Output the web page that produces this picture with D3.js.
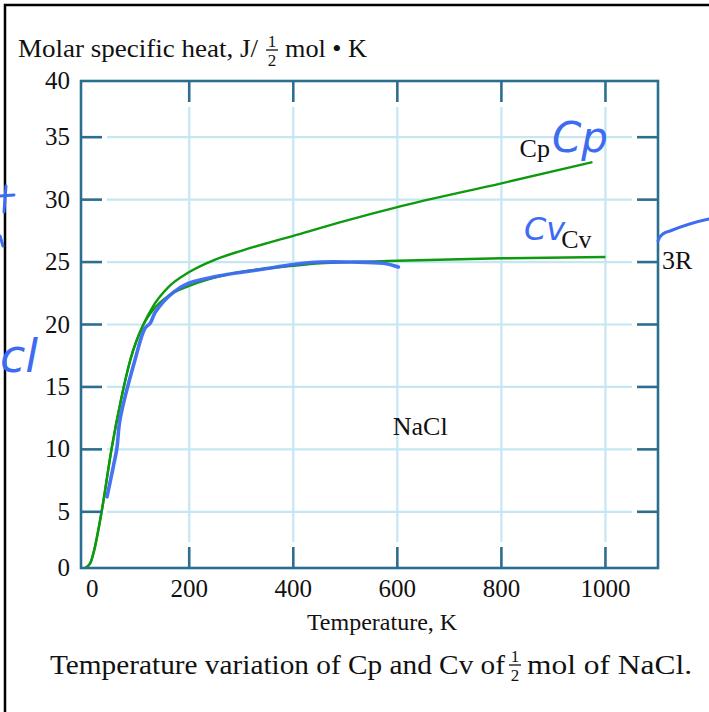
<!DOCTYPE html>
<html>
<head>
<meta charset="utf-8">
<script src="https://cdn.jsdelivr.net/npm/d3@7"></script>
<style>
  body { margin: 0; background: #fff; }
  text { font-family: "Liberation Serif", "Times New Roman", serif; fill: #111; }
  .hand { font-family: "DejaVu Sans", sans-serif; font-style: italic; fill: #3d6cf2; }
</style>
</head>
<body>
<div id="chart"></div>
<script>
// values (T in K, heat in J / half mol K)
var cpTemps = [0, 10, 16, 32, 51, 69, 87, 112, 131, 160, 200, 250, 300, 400, 500, 600, 800, 975];
var cpValues = [0, 0.9, 1.7, 5.1, 10.1, 14.0, 17.2, 20.0, 21.5, 23.0, 24.2, 25.2, 25.9, 27.1, 28.3, 29.4, 31.3, 33.0];

var cvTemps = [0, 10, 16, 32, 51, 69, 87, 112, 131, 160, 200, 272, 400, 452, 600, 800, 1000];
var cvValues = [0, 0.9, 1.7, 5.1, 10.1, 14.0, 17.2, 20.0, 21.2, 22.3, 23.1, 24.0, 24.7, 24.9, 25.1, 25.3, 25.4];

// blue hand drawn trace on top of Cv
var traceTemps = [42, 54, 61, 67, 96, 115, 125, 135, 170, 199, 272, 337, 400, 452, 510, 573, 602];
var traceValues = [6.2, 8.6, 10.1, 12.4, 17.2, 19.7, 20.1, 21.0, 22.6, 23.3, 24.0, 24.4, 24.8, 25.0, 25.0, 24.9, 24.6];

var xTicks = [0, 200, 400, 600, 800, 1000];
var yTicks = [0, 5, 10, 15, 20, 25, 30, 35, 40];

var width = 709,
    height = 712,
    frameLeft = 81,
    frameRight = 658,
    frameTop = 81,
    frameBottom = 568,
    tickLen = 21,
    gap = 5;

var teal = "#2b6f8e",
    gridBlue = "#c4e7f2",
    green = "#0e9a0e",
    pen = "#3d6cf2";

var svg = d3.select("#chart")
            .append("svg")
            .attr("width", width)
            .attr("height", height);

// outer border of the scan
svg.append("path")
   .attr("d", "M5," + height + "V5H" + width)
   .attr("fill", "none")
   .attr("stroke", "#000")
   .attr("stroke-width", 2.5);

var x = d3.scaleLinear()
          .domain([-8, 1101])
          .range([frameLeft, frameRight]);

var y = d3.scaleLinear()
          .domain([0.5, 39.5])
          .range([frameBottom, frameTop])
          .clamp(true);

var innerX = xTicks.filter(function(d) { return d > 0; });
var innerY = yTicks.filter(function(d) { return d > 0 && d < 40; });

// light grid lines
svg.selectAll(".gridx")
   .data(innerX)
   .enter()
   .append("line")
   .attr("x1", function(d) { return x(d); })
   .attr("x2", function(d) { return x(d); })
   .attr("y1", frameTop + tickLen + gap)
   .attr("y2", frameBottom - tickLen - gap)
   .attr("stroke", gridBlue)
   .attr("stroke-width", 2.2);

svg.selectAll(".gridy")
   .data(innerY)
   .enter()
   .append("line")
   .attr("y1", function(d) { return y(d); })
   .attr("y2", function(d) { return y(d); })
   .attr("x1", frameLeft + tickLen + gap)
   .attr("x2", frameRight - tickLen - gap)
   .attr("stroke", gridBlue)
   .attr("stroke-width", 2.2);

// curves
var line = d3.line()
             .x(function(d) { return x(d[0]); })
             .y(function(d) { return y(d[1]); })
             .curve(d3.curveMonotoneX);

svg.append("path")
   .attr("d", line(d3.zip(cvTemps, cvValues)))
   .attr("fill", "none")
   .attr("stroke", green)
   .attr("stroke-width", 2.4);

svg.append("path")
   .attr("d", line(d3.zip(cpTemps, cpValues)))
   .attr("fill", "none")
   .attr("stroke", green)
   .attr("stroke-width", 2.4);

svg.append("path")
   .attr("d", line.curve(d3.curveCatmullRom)(d3.zip(traceTemps, traceValues)))
   .attr("fill", "none")
   .attr("stroke", pen)
   .attr("stroke-width", 3.6)
   .attr("stroke-linecap", "round")
   .attr("opacity", 0.95);

// dark ticks on all four sides
innerX.forEach(function(d) {
  [[frameTop, frameTop + tickLen], [frameBottom, frameBottom - tickLen]].forEach(function(p) {
    svg.append("line")
       .attr("x1", x(d)).attr("x2", x(d))
       .attr("y1", p[0]).attr("y2", p[1])
       .attr("stroke", teal)
       .attr("stroke-width", 2.6);
  });
});

innerY.forEach(function(d) {
  [[frameLeft, frameLeft + tickLen], [frameRight, frameRight - tickLen]].forEach(function(p) {
    svg.append("line")
       .attr("y1", y(d)).attr("y2", y(d))
       .attr("x1", p[0]).attr("x2", p[1])
       .attr("stroke", teal)
       .attr("stroke-width", 2.6);
  });
});

svg.append("rect")
   .attr("x", frameLeft)
   .attr("y", frameTop)
   .attr("width", frameRight - frameLeft)
   .attr("height", frameBottom - frameTop)
   .attr("fill", "none")
   .attr("stroke", teal)
   .attr("stroke-width", 2.6);

// tick labels
svg.selectAll(".ylab")
   .data(yTicks)
   .enter()
   .append("text")
   .attr("x", 70)
   .attr("y", function(d) { return y(d) + 8; })
   .attr("text-anchor", "end")
   .style("font-size", "25px")
   .text(function(d) { return d; });

svg.selectAll(".xlab")
   .data(xTicks)
   .enter()
   .append("text")
   .attr("x", function(d) { return d === 0 ? x(d) + 7 : x(d); })
   .attr("y", 597)
   .attr("text-anchor", "middle")
   .style("font-size", "25px")
   .text(function(d) { return d; });

// stacked 1/2 fraction
function half(cx, barY) {
  svg.append("text").attr("x", cx).attr("y", barY - 3)
     .attr("text-anchor", "middle").style("font-size", "17px").text("1");
  svg.append("line").attr("x1", cx - 6).attr("x2", cx + 6)
     .attr("y1", barY).attr("y2", barY)
     .attr("stroke", "#111").attr("stroke-width", 1.3);
  svg.append("text").attr("x", cx).attr("y", barY + 16)
     .attr("text-anchor", "middle").style("font-size", "17px").text("2");
}

// y title
svg.append("text")
   .attr("x", 18).attr("y", 57)
   .attr("textLength", 240).attr("lengthAdjust", "spacingAndGlyphs")
   .style("font-size", "26px")
   .text("Molar specific heat, J/");
half(272, 50);
svg.append("text")
   .attr("x", 285).attr("y", 57)
   .attr("textLength", 82).attr("lengthAdjust", "spacingAndGlyphs")
   .style("font-size", "26px")
   .text("mol \u2022 K");

// x title
svg.append("text")
   .attr("x", 382).attr("y", 630)
   .attr("text-anchor", "middle")
   .style("font-size", "24px")
   .text("Temperature, K");

// caption
svg.append("text")
   .attr("x", 50).attr("y", 674)
   .attr("textLength", 455).attr("lengthAdjust", "spacingAndGlyphs")
   .style("font-size", "28px")
   .text("Temperature variation of Cp and Cv of");
half(515, 665);
svg.append("text")
   .attr("x", 527).attr("y", 674)
   .attr("textLength", 165).attr("lengthAdjust", "spacingAndGlyphs")
   .style("font-size", "28px")
   .text("mol of NaCl.");

// curve labels
svg.append("text").attr("x", x(835)).attr("y", y(33.4))
   .style("font-size", "26px").text("Cp");
svg.append("text").attr("x", x(915)).attr("y", y(26.1))
   .style("font-size", "26px").text("Cv");
svg.append("text").attr("x", frameRight + 4).attr("y", y(25) + 7)
   .style("font-size", "26px").text("3R");
svg.append("text").attr("x", x(644)).attr("y", y(11.15))
   .attr("text-anchor", "middle")
   .style("font-size", "26px").text("NaCl");

// hand written notes in blue pen
svg.append("text").attr("class", "hand").attr("x", 552).attr("y", 152)
   .style("font-size", "42px").text("Cp");
svg.append("text").attr("class", "hand").attr("x", 524).attr("y", 240)
   .style("font-size", "32px").text("Cv");
svg.append("text").attr("class", "hand").attr("x", 0).attr("y", 372)
   .style("font-size", "46px").text("cl");

svg.append("path")
   .attr("d", "M658,241Q660,233 670,231Q690,223 709,219")
   .attr("fill", "none").attr("stroke", pen)
   .attr("stroke-width", 3).attr("stroke-linecap", "round");

svg.append("path")
   .attr("d", "M0,196L14,195M6,186L4,212M0,236L3,246")
   .attr("fill", "none").attr("stroke", pen)
   .attr("stroke-width", 3).attr("stroke-linecap", "round");
</script>
</body>
</html>
